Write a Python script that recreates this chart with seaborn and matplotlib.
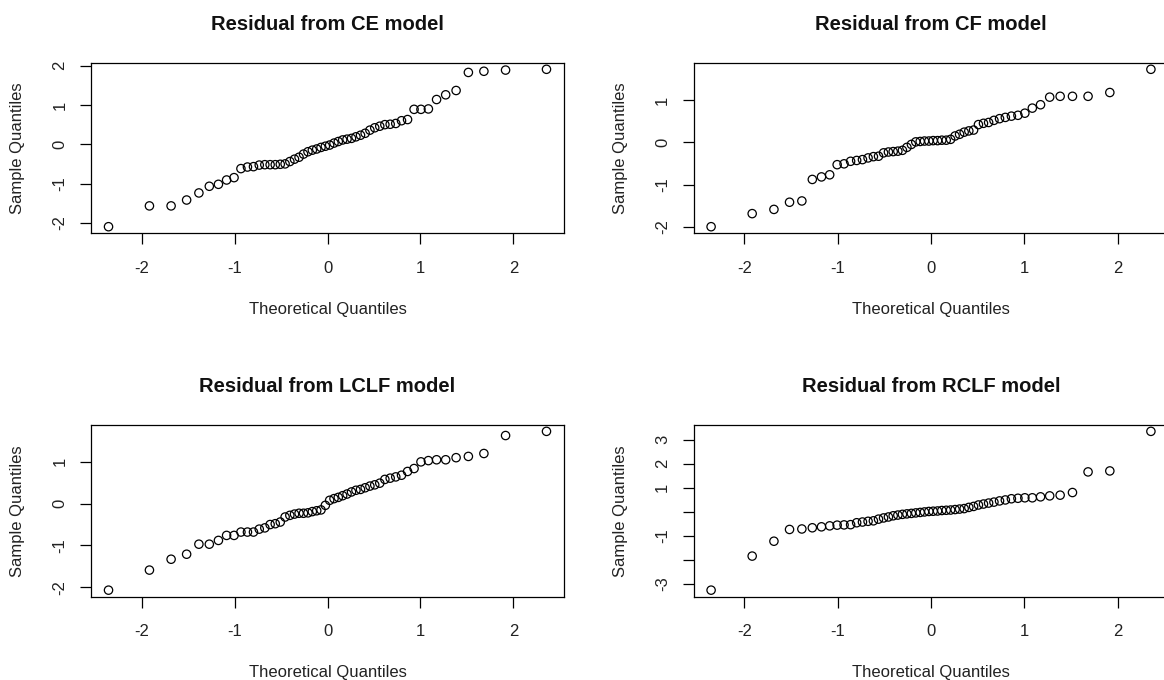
import matplotlib
matplotlib.use("Agg")
import matplotlib.pyplot as plt
import seaborn as sns
import pandas as pd

# Theoretical normal quantiles (n = 54)
theoretical = [-2.355, -1.915, -1.682, -1.515, -1.383, -1.271, -1.173, -1.085, -1.005,
               -0.931, -0.861, -0.796, -0.734, -0.674, -0.617, -0.562, -0.508, -0.456,
               -0.405, -0.355, -0.306, -0.258, -0.210, -0.163, -0.116, -0.070, -0.023,
               0.023, 0.070, 0.116, 0.163, 0.210, 0.258, 0.306, 0.355, 0.405,
               0.456, 0.508, 0.562, 0.617, 0.674, 0.734, 0.796, 0.861, 0.931,
               1.005, 1.085, 1.173, 1.271, 1.383, 1.515, 1.682, 1.915, 2.355]

resid_ce = [-2.10, -1.57, -1.57, -1.42, -1.24, -1.07, -1.02, -0.91, -0.85,
            -0.62, -0.58, -0.57, -0.53, -0.52, -0.52, -0.52, -0.51, -0.50,
            -0.44, -0.38, -0.33, -0.25, -0.19, -0.15, -0.12, -0.08, -0.05,
            -0.02, 0.03, 0.07, 0.11, 0.13, 0.15, 0.19, 0.23, 0.28,
            0.36, 0.42, 0.46, 0.50, 0.51, 0.53, 0.60, 0.63, 0.89,
            0.89, 0.90, 1.14, 1.26, 1.37, 1.83, 1.86, 1.89, 1.91]

resid_cf = [-2.00, -1.69, -1.59, -1.42, -1.39, -0.88, -0.82, -0.77, -0.53,
            -0.51, -0.45, -0.43, -0.41, -0.37, -0.34, -0.33, -0.25, -0.23,
            -0.22, -0.21, -0.19, -0.12, -0.05, 0.01, 0.02, 0.03, 0.03,
            0.04, 0.04, 0.05, 0.05, 0.07, 0.15, 0.19, 0.24, 0.27,
            0.29, 0.42, 0.45, 0.47, 0.52, 0.56, 0.59, 0.62, 0.64,
            0.69, 0.81, 0.89, 1.07, 1.09, 1.09, 1.09, 1.18, 1.73]

resid_lclf = [-2.07, -1.59, -1.33, -1.21, -0.97, -0.97, -0.88, -0.76, -0.76,
              -0.68, -0.68, -0.68, -0.61, -0.58, -0.50, -0.48, -0.44, -0.32,
              -0.28, -0.25, -0.23, -0.23, -0.22, -0.19, -0.17, -0.15, -0.04,
              0.08, 0.12, 0.15, 0.19, 0.23, 0.28, 0.32, 0.34, 0.38,
              0.42, 0.45, 0.49, 0.58, 0.61, 0.64, 0.68, 0.77, 0.84,
              1.00, 1.03, 1.05, 1.05, 1.10, 1.13, 1.20, 1.63, 1.73]

resid_rclf = [-3.27, -1.85, -1.23, -0.74, -0.72, -0.67, -0.63, -0.59, -0.56,
              -0.55, -0.54, -0.46, -0.43, -0.40, -0.38, -0.31, -0.26, -0.22,
              -0.17, -0.14, -0.11, -0.09, -0.07, -0.05, -0.03, -0.01, 0.01,
              0.02, 0.03, 0.05, 0.06, 0.07, 0.09, 0.11, 0.13, 0.18,
              0.22, 0.28, 0.32, 0.36, 0.40, 0.45, 0.49, 0.54, 0.56,
              0.58, 0.58, 0.62, 0.66, 0.69, 0.80, 1.66, 1.70, 3.35]

titles = ["Residual from CE model", "Residual from CF model",
          "Residual from LCLF model", "Residual from RCLF model"]
x_ticks = [-2, -1, 0, 1, 2]
y_ticks = [[-2, -1, 0, 1, 2], [-2, -1, 0, 1], [-2, -1, 0, 1], [-3, -2, -1, 0, 1, 2, 3]]
y_ticklabels = [["-2", "-1", "0", "1", "2"], ["-2", "-1", "0", "1"], ["-2", "-1", "0", "1"],
                ["-3", "", "-1", "", "1", "2", "3"]]

sns.set_theme(style="white")
plt.rcParams["font.family"] = ["Liberation Sans", "DejaVu Sans"]

fig = plt.figure(figsize=(11.64, 6.8), dpi=100)
W, H = 1164, 680
# axes boxes in pixels: left, top, width, height
boxes = [(91, 63, 473, 170), (693.5, 63, 475, 170),
         (91, 425, 473, 171.5), (693.5, 425, 475, 171.5)]

series = [resid_ce, resid_cf, resid_lclf, resid_rclf]
for k, (l, t, w, h) in enumerate(boxes):
    ax = fig.add_axes([l / W, 1 - (t + h) / H, w / W, h / H])
    df = pd.DataFrame({"x": theoretical, "y": series[k]})
    sns.scatterplot(data=df, x="x", y="y", ax=ax, marker="o", s=36,
                    facecolors="none", edgecolor="black", linewidth=0.9)
    xr = max(theoretical) - min(theoretical)
    ax.set_xlim(min(theoretical) - 0.04 * xr, max(theoretical) + 0.04 * xr)
    yv = series[k]
    yr = max(yv) - min(yv)
    ax.set_ylim(min(yv) - 0.04 * yr, max(yv) + 0.04 * yr)
    ax.set_xticks(x_ticks)
    ax.set_xticklabels([str(v) for v in x_ticks])
    ax.set_yticks(y_ticks[k])
    ax.set_yticklabels(y_ticklabels[k], rotation=90, va="center")
    ax.tick_params(axis="both", direction="out", length=8, width=0.9,
                   color="black", labelsize=12, labelcolor="#222222",
                   bottom=True, left=True, top=False, right=False)
    ax.tick_params(axis="x", pad=12)
    ax.tick_params(axis="y", pad=9)
    for sp in ax.spines.values():
        sp.set_visible(True)
        sp.set_color("black")
        sp.set_linewidth(0.9)
    ax.set_title(titles[k], fontsize=14.5, fontweight="bold", pad=24, color="#111111")
    ax.set_xlabel("Theoretical Quantiles", fontsize=12, color="#222222")
    ax.set_ylabel("Sample Quantiles", fontsize=12, color="#222222")
    ax.xaxis.set_label_coords(0.5, -69 / h)
    ax.yaxis.label.set_va("center")
    ax.yaxis.set_label_coords(-73 / w, 0.5)
    ax.grid(False)

fig.savefig("out.png", dpi=100)
